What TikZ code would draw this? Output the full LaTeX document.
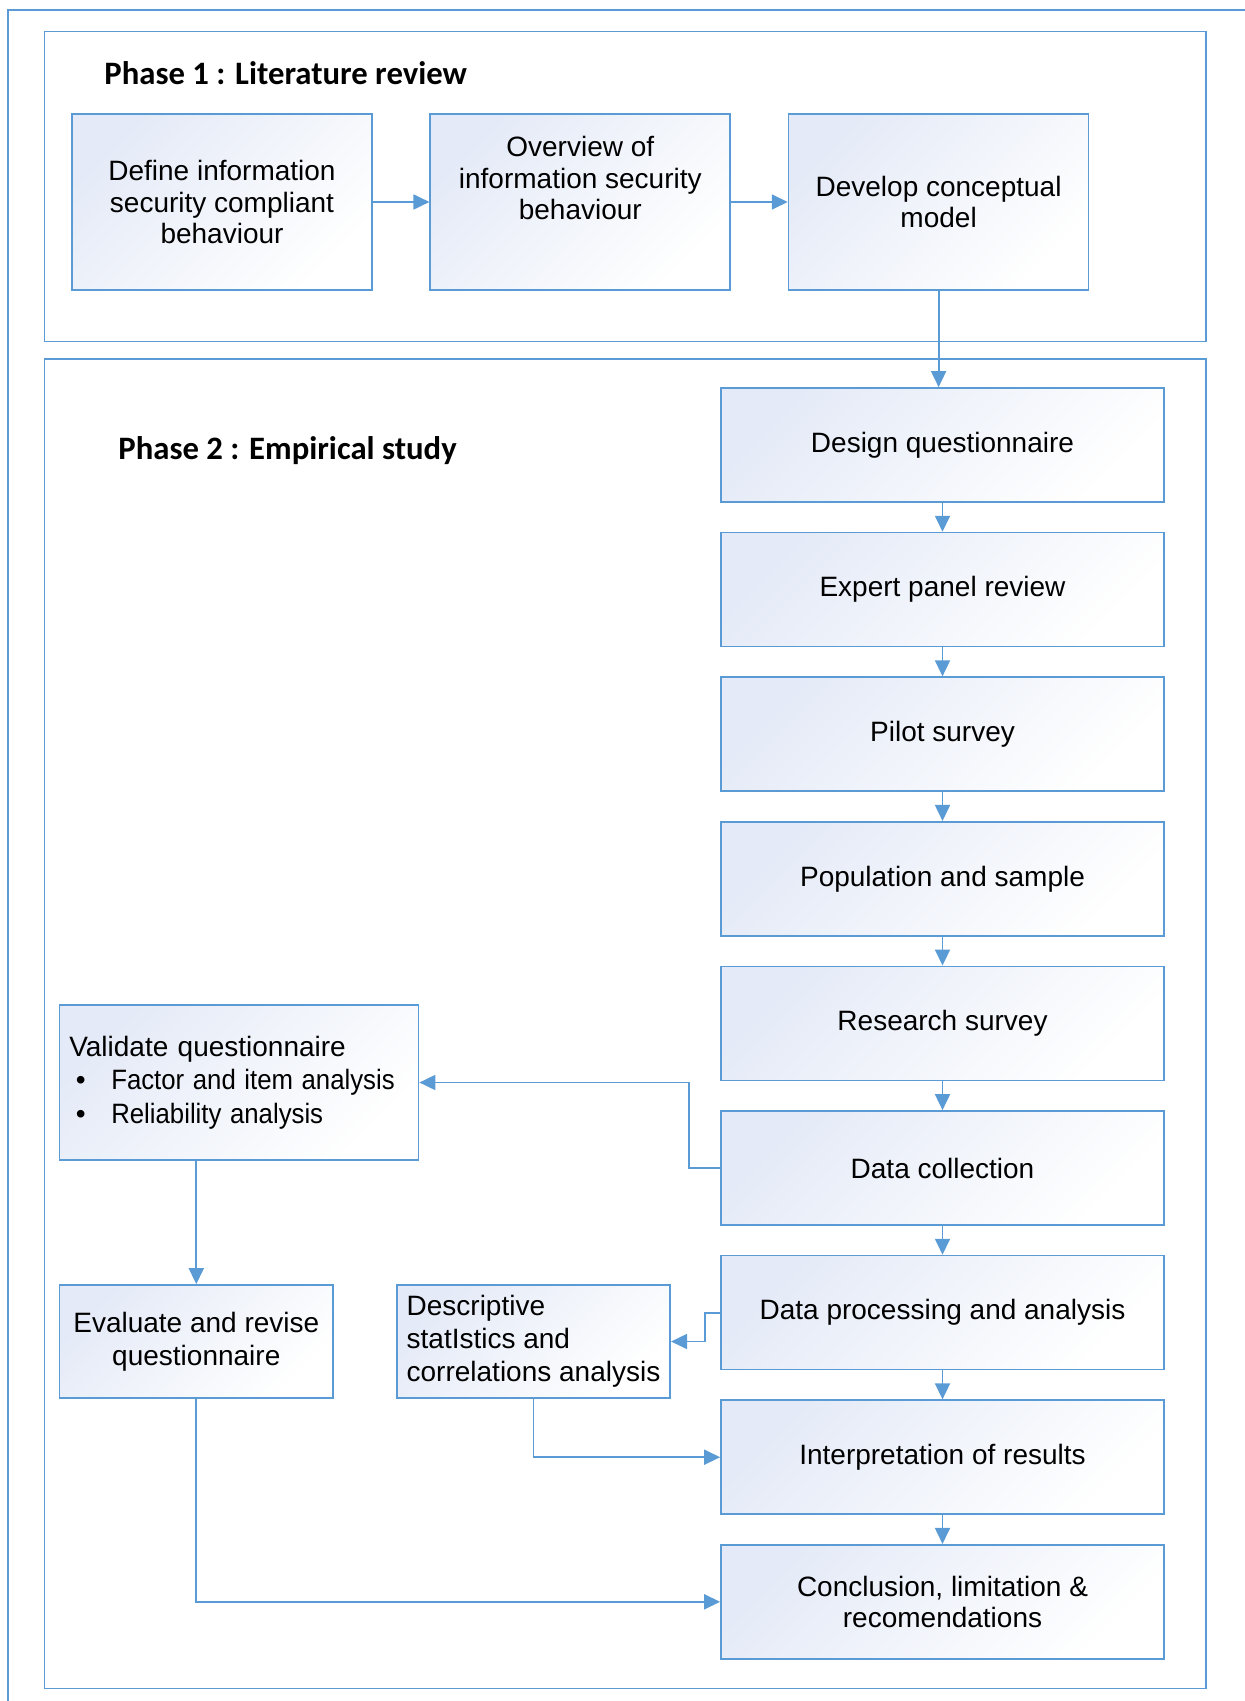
\documentclass[tikz,border=0pt]{standalone}
\usepackage{fontspec}
\setmainfont{Liberation Sans}
\newfontfamily\phasefont{Carlito}
\usetikzlibrary{arrows.meta,positioning}
\definecolor{lineblue}{RGB}{91,155,213}
\definecolor{tintblue}{RGB}{228,234,247}

\begin{document}
\begin{tikzpicture}[x=0.5pt,y=-0.5pt,
  frame/.style={draw=lineblue,line width=0.9pt},
  block/.style={draw=lineblue,line width=0.85pt,top color=tintblue,bottom color=white,shading angle=45,
    minimum width=150pt,minimum height=88pt,inner sep=0pt,align=center,
    font=\fontsize{14}{15.75}\selectfont},
  stepbox/.style={block,minimum width=221.5pt,minimum height=57pt},
  sidebox/.style={block,minimum width=136.7pt,minimum height=56.5pt,font=\fontsize{14}{16.5}\selectfont},
  phase/.style={anchor=base west,inner sep=0pt,font=\phasefont\bfseries\fontsize{16.35}{19}\selectfont},
  arrow/.style={draw=lineblue,line width=0.9pt,-{Triangle[length=8pt,width=7.5pt]}},
  node distance=14.45pt
]
\useasboundingbox (0,0) rectangle (1245,1701);
\draw[frame] (1245,10) -- (8,10) -- (8,1701);
\draw[frame] (44.5,31.5) rectangle (1206,341.5);
\draw[frame] (44.5,359) rectangle (1206,1688.5);

\node[phase] (phase1) at (104,85) {Phase 1 : Literature review};
\node[phase] (phase2) at (118,459) {Phase 2 : Empirical study};

% phase 1
\node[block] (define) at (222,202) {Define information\\security compliant\\behaviour};
\node[block,right=28.3pt of define] (overview) {\raisebox{10pt}[\height][\depth]{\begin{tabular}{@{}c@{}}Overview of\\information security\\behaviour\end{tabular}}};
\node[block,right=28.3pt of overview] (model) {Develop conceptual\\model};

% phase 2, main column
\node[stepbox] (design) at (942.5,445) {Design questionnaire};
\node[stepbox,below=of design] (expert) {Expert panel review};
\node[stepbox,below=of expert] (pilot) {Pilot survey};
\node[stepbox,below=of pilot] (population) {Population and sample};
\node[stepbox,below=of population] (research) {Research survey};
\node[stepbox,below=of research] (collect) {Data collection};
\node[stepbox,below=of collect] (process) {Data processing and analysis};
\node[stepbox,below=of process] (interpret) {Interpretation of results};
\node[stepbox,below=of interpret] (conclude) {Conclusion, limitation \&\\recomendations};

% side boxes
\node[block,minimum width=179.5pt,minimum height=77.5pt,inner xsep=4.9pt,text width=169.7pt,align=left,font=\fontsize{14}{16.75}\selectfont] (validate) at (239,1082.5)
  {Validate questionnaire\\\makebox[21pt][l]{\hspace{3.3pt}\textbullet}\scalebox{0.92}[1]{Factor and item analysis}\\\makebox[21pt][l]{\hspace{3.3pt}\textbullet}\scalebox{0.92}[1]{Reliability analysis}};
\node[sidebox] (evaluate) at (196.3,1341.5) {Evaluate and revise\\questionnaire};
\node[sidebox,align=left] (describe) at (533.5,1341.5) {Descriptive\\statIstics and\\correlations analysis};

\draw[arrow] (define) -- (overview);
\draw[arrow] (overview) -- (model);
\draw[arrow] (model.south) -- (model.south |- design.north);
\draw[arrow] (design) -- (expert);
\draw[arrow] (expert) -- (pilot);
\draw[arrow] (pilot) -- (population);
\draw[arrow] (population) -- (research);
\draw[arrow] (research) -- (collect);
\draw[arrow] (collect) -- (process);
\draw[arrow] (process) -- (interpret);
\draw[arrow] (interpret) -- (conclude);
\draw[arrow] (collect.west) -- ++(-31,0) |- (validate.east);
\draw[arrow] (validate.south -| evaluate.north) -- (evaluate.north);
\draw[arrow] (process.west) -- ++(-15,0) |- (describe.east);
\draw[arrow] (describe.south) |- (interpret.west);
\draw[arrow] (evaluate.south) |- (conclude.west);
\end{tikzpicture}
\end{document}
